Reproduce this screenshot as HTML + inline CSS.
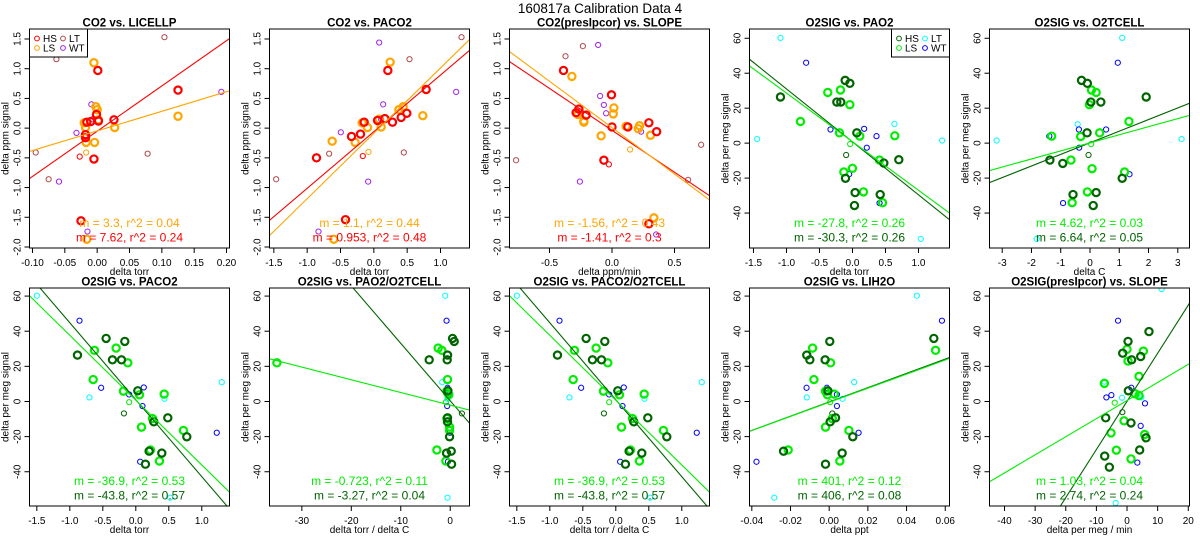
<!DOCTYPE html>
<html><head><meta charset="utf-8"><title>160817a Calibration Data 4</title>
<style>
html,body{margin:0;padding:0;background:#fff;width:1200px;height:550px;overflow:hidden;}
svg{display:block;font-family:"Liberation Sans",Arial,sans-serif;overflow:hidden;}
</style></head>
<body>
<svg id="chart" width="1200" height="550" viewBox="0 0 1200 550" xmlns="http://www.w3.org/2000/svg">
<text x="600" y="13" text-anchor="middle" font-size="13.5">160817a   Calibration Data 4</text>
</svg>
<script>
// ---- Panel 1: CO2 vs. LICELLP ----
const p1HsX=[0.001,0.125,0.026,-0.001,-0.010,0.002,-0.016,-0.018,-0.018,-0.005,-0.025];
const p1HsY=[0.97,0.64,0.14,0.23,0.11,0.12,0.10,-0.11,-0.16,-0.52,-1.56];
const p1LsX=[-0.005,-0.002,0.000,0.002,-0.020,-0.018,0.027,0.125,-0.017,-0.004,-0.016];
const p1LsY=[1.10,0.36,0.31,0.14,0.09,0.01,0.01,0.20,-0.24,-0.24,-1.87];
const p1HsOutX=[-0.027], p1HsOutY=[-0.48];
const p1LsOutX=[-0.017], p1LsOutY=[-0.41];
const p1LtX=[-0.063,0.104,-0.095,-0.075,0.078];
const p1LtY=[1.16,1.53,-0.41,-0.86,-0.43];
const p1WtX=[0.192,-0.009,-0.007,-0.032,-0.059,-0.015];
const p1WtY=[0.61,0.40,0.15,-0.08,-0.90,-1.74];
const p1Slopes=[7.62,3.3], p1Intercepts=[-0.052,-0.047];
const p1FitText=["m = 7.62, r^2 = 0.24","m = 3.3, r^2 = 0.04"];
const p1XTicks=["-0.10","-0.05","0.00","0.05","0.10","0.15","0.20"];
const p1YTicks=["-2.0","-1.5","-1.0","-0.5","0.0","0.5","1.0","1.5"];

// ---- Panel 2: CO2 vs. PACO2 ----
const p2HsX=[0.21,0.785,0.495,0.41,0.165,0.055,-0.145,0.28,-0.2,-0.335,-0.86,-0.425];
const p2HsY=[0.97,0.65,0.25,0.18,0.16,0.13,0.10,0.10,-0.10,-0.14,-0.50,-1.54];
const p2LsX=[0.245,0.44,0.375,0.08,-0.175,-0.095,0.11,0.735,-0.625,-0.28,-0.60];
const p2LsY=[1.11,0.36,0.31,0.15,0.09,0.01,0.02,0.21,-0.22,-0.24,-1.87];
const p2HsOutX=[-0.165], p2HsOutY=[-0.47];
const p2LsOutX=[-0.08], p2LsOutY=[-0.40];
const p2LtX=[0.535,1.315,-0.67,-1.465,0.45];
const p2LtY=[1.16,1.53,-0.43,-0.86,-0.41];
const p2WtX=[0.08,1.235,0.14,0.11,-0.495,-0.085,-0.83];
const p2WtY=[1.44,0.61,0.40,0.15,-0.07,-0.90,-1.74];
const p2Slopes=[0.953,1.1], p2Intercepts=[-0.06,-0.088];
const p2FitText=["m = 0.953, r^2 = 0.48","m = 1.1, r^2 = 0.44"];
const p2XTicks=["-1.5","-1.0","-0.5","0.0","0.5","1.0"];
const p2YTicks=["-2.0","-1.5","-1.0","-0.5","0.0","0.5","1.0","1.5"];

// ---- Panel 3: CO2(presIpcor) vs. SLOPE ----
const p3HsX=[-0.388,-0.004,-0.265,-0.287,-0.207,0,0.127,0.295,0.357,-0.065,0.295];
const p3HsY=[0.97,0.56,0.32,0.26,0.22,0.02,0.02,0.09,-0.06,-0.54,-1.61];
const p3LsX=[-0.321,0.015,0.01,-0.273,-0.225,-0.225,0.113,0.22,0.21,-0.087,0.308,0.335];
const p3LsY=[0.87,0.34,0.24,0.23,0.12,0.10,0.03,0.04,-0.01,-0.13,-0.12,-1.51];
const p3HsOutX=[-0.025], p3HsOutY=[-0.61];
const p3LsOutX=[0.145], p3LsOutY=[-0.36];
const p3LtX=[-0.372,-0.233,-0.767,0.609,0.713];
const p3LtY=[1.21,1.38,-0.54,-0.87,-0.28];
const p3WtX=[-0.111,-0.095,-0.065,-0.047,0.233,-0.257,0.353];
const p3WtY=[1.40,0.54,0.39,0.25,-0.06,-0.90,-1.79];
const p3Slopes=[-1.41,-1.56], p3Intercepts=[-0.037,0.009];
const p3FitText=["m = -1.41, r^2 = 0.3","m = -1.56, r^2 = 0.43"];
const p3XTicks=["-0.5","0.0","0.5"];
const p3YTicks=["-2.0","-1.5","-1.0","-0.5","0.0","0.5","1.0","1.5"];

// ---- Panel 4: O2SIG vs. PAO2 ----
const p4HsX=[-1.091,-0.111,-0.04,-0.237,-0.177,0.066,0.475,0.702,-0.106,0.04,0.03,0.42];
const p4HsY=[26.4,35.9,34.2,23.5,23.5,5.9,-11.4,-9.5,-20.1,-28.3,-35.7,-29.4];
const p4LsX=[-0.374,-0.182,-0.04,-0.788,-0.197,0.111,0.641,0.409,0.0,-0.131,0.167,0.455];
const p4LsY=[29.0,30.4,22.0,12.4,5.9,4.0,4.2,-9.7,-14.4,-16.5,-27.9,-34.1];
const p4HsOutX=[-0.096], p4HsOutY=[-6.8];
const p4LsOutX=[-0.035], p4LsOutY=[-0.5];
const p4LtX=[-1.091,-1.444,0.636,1.358,1.035];
const p4LtY=[60.2,2.3,11.0,1.5,-54.8];
const p4WtX=[-0.702,-0.333,0.177,0.364,0.217,-0.05,0.41];
const p4WtY=[46.0,7.8,8.2,4.0,-2.6,-17.8,-34.3];
const p4Slopes=[-30.3,-27.8], p4Intercepts=[0.73,0.83];
const p4FitText=["m = -30.3, r^2 = 0.26","m = -27.8, r^2 = 0.26"];
const p4XTicks=["-1.5","-1.0","-0.5","0.0","0.5","1.0"];
const p4YTicks=["-40","-20","0","20","40","60"];

// ---- Panel 5: O2SIG vs. O2TCELL ----
const p5HsX=[-0.29,-0.09,0.03,0.37,1.92,-0.1,-1.37,-0.93,1.1,-0.58,0.21,0.11];
const p5HsY=[35.9,34.2,23.5,23.5,26.4,5.9,-9.7,-11.6,-20.1,-29.4,-28.3,-35.7];
const p5LsX=[0.05,0.21,-0.02,1.33,-1.31,-0.32,0.33,-0.65,0.07,1.18,-0.09,-0.61];
const p5LsY=[30.4,29.0,22.0,12.4,4.0,3.8,5.9,-9.7,-14.6,-16.5,-27.9,-34.1];
const p5HsOutX=[-0.05], p5HsOutY=[-6.8];
const p5LsOutX=[0.04], p5LsOutY=[-0.5];
const p5LtX=[1.1,-3.19,-0.42,3.13,-1.82];
const p5LtY=[60.2,1.5,10.8,2.3,-54.8];
const p5WtX=[0.95,-1.39,-0.38,0.55,-0.37,1.35,-0.92];
const p5WtY=[46.0,4.0,7.8,7.8,-2.6,-17.8,-34.3];
const p5Slopes=[6.64,4.62], p5Intercepts=[0.2,0.17];
const p5FitText=["m = 6.64, r^2 = 0.05","m = 4.62, r^2 = 0.03"];
const p5XTicks=["-3","-2","-1","0","1","2","3"];
const p5YTicks=["-40","-20","0","20","40","60"];

// ---- Panel 6: O2SIG vs. PACO2 ----
const p6HsX=[-0.884,-0.45,-0.167,-0.354,-0.217,0.03,0.273,0.485,0.773,0.202,0.146,0.394];
const p6HsY=[26.4,35.9,34.2,23.7,23.7,6.1,-11.6,-9.3,-20.1,-28.3,-35.7,-29.4];
const p6LsX=[-0.626,-0.298,-0.121,-0.646,-0.187,0.056,0.43,0.253,0.086,0.722,0.222,0.358];
const p6LsY=[29.1,30.4,22.0,12.5,5.9,3.8,4.2,-9.7,-14.6,-16.5,-27.6,-33.9];
const p6HsOutX=[-0.18], p6HsOutY=[-6.8];
const p6LsOutX=[-0.1], p6LsOutY=[-0.4];
const p6LtX=[-1.5,-0.702,1.303,0.434,0.52];
const p6LtY=[60.2,2.3,11.0,1.5,-54.8];
const p6WtX=[-0.853,-0.525,0.121,-0.101,0.101,1.227,0.066];
const p6WtY=[46.0,7.8,8.0,4.0,-2.6,-17.8,-34.3];
const p6Slopes=[-43.8,-36.9], p6Intercepts=[1.0,0.75];
const p6FitText=["m = -43.8, r^2 = 0.57","m = -36.9, r^2 = 0.53"];
const p6XTicks=["-1.5","-1.0","-0.5","0.0","0.5","1.0"];
const p6YTicks=["-40","-20","0","20","40","60"];

// ---- Panel 7: O2SIG vs. PAO2/O2TCELL ----
const p7HsX=[-4.25,0.47,0.81,-0.54,-0.61,-0.47,-0.54,-0.54,-0.13,0.2,-0.74,0.27];
const p7HsY=[23.7,35.9,34.2,26.4,23.7,6.1,-11.6,-9.3,-20.1,-28.3,-29.4,-35.7];
const p7LsX=[-35.05,-2.43,-1.69,-0.54,-0.67,-0.27,-0.67,-0.13,-0.13,-2.7,-0.88,-0.54];
const p7LsY=[22.0,30.4,29.1,12.5,5.9,3.8,-9.7,-14.6,-16.5,-27.6,-33.9,5.0];
const p7HsOutX=[2.36], p7HsOutY=[-6.8];
const p7LsOutX=[-0.88], p7LsOutY=[-0.4];
const p7LtX=[-1.01,-1.62,-0.54,-0.47,-0.54];
const p7LtY=[60.2,11.0,1.5,2.3,-54.8];
const p7WtX=[-0.74,-0.54,-0.47,-0.2,-0.61,-0.07,-0.47];
const p7WtY=[46.0,7.8,7.0,4.0,-2.6,-17.8,-34.3];
const p7Slopes=[-3.27,-0.723], p7Intercepts=[0.4,-2.1];
const p7FitText=["m = -3.27, r^2 = 0.04","m = -0.723, r^2 = 0.11"];
const p7XTicks=["-30","-20","-10","0"];
const p7YTicks=["-40","-20","0","20","40","60"];

// ---- Panel 8: O2SIG vs. PACO2/O2TCELL ----
const p8HsX=[-0.884,-0.45,-0.167,-0.354,-0.217,0.03,0.273,0.485,0.773,0.202,0.146,0.394];
const p8HsY=[26.4,35.9,34.2,23.7,23.7,6.1,-11.6,-9.3,-20.1,-28.3,-35.7,-29.4];
const p8LsX=[-0.626,-0.298,-0.121,-0.646,-0.187,0.056,0.43,0.253,0.086,0.722,0.222,0.358];
const p8LsY=[29.1,30.4,22.0,12.5,5.9,3.8,4.2,-9.7,-14.6,-16.5,-27.6,-33.9];
const p8HsOutX=[-0.18], p8HsOutY=[-6.8];
const p8LsOutX=[-0.1], p8LsOutY=[-0.4];
const p8LtX=[-1.5,-0.702,1.303,0.434,0.52];
const p8LtY=[60.2,2.3,11.0,1.5,-54.8];
const p8WtX=[-0.853,-0.525,0.121,-0.101,0.101,1.227,0.066];
const p8WtY=[46.0,7.8,8.0,4.0,-2.6,-17.8,-34.3];
const p8Slopes=[-43.8,-36.9], p8Intercepts=[1.0,0.75];
const p8FitText=["m = -43.8, r^2 = 0.57","m = -36.9, r^2 = 0.53"];
const p8XTicks=["-1.5","-1.0","-0.5","0.0","0.5","1.0"];
const p8YTicks=["-40","-20","0","20","40","60"];

// ---- Panel 9: O2SIG vs. LIH2O ----
const p9HsX=[-0.0116,-0.01,-0.0021,0.0003,0.0541,-0.0007,0.0005,0.0033,0.0122,-0.0236,0.0067,-0.0019];
const p9HsY=[26.4,23.7,23.7,34.2,35.9,6.1,-11.6,-9.3,-20.1,-28.3,-29.4,-35.7];
const p9LsX=[-0.0086,0.055,0.0007,-0.0079,-0.0019,-0.0009,0.0026,0.0016,-0.0019,0.0102,-0.0212,0.0055];
const p9LsY=[30.4,29.1,22.0,12.5,5.9,3.8,4.2,-9.7,-14.6,-16.5,-27.6,-33.9];
const p9HsOutX=[0.0016], p9HsOutY=[-6.8];
const p9LsOutX=[0.0005], p9LsOutY=[-0.4];
const p9LtX=[0.0453,-0.0116,0.0129,0.0069,-0.0284];
const p9LtY=[60.2,2.3,11.0,1.5,-54.8];
const p9WtX=[0.0583,-0.0117,-0.0012,0.004,0.004,0.0152,-0.0376];
const p9WtY=[46.0,7.8,7.8,4.0,-2.6,-17.8,-34.3];
const p9Slopes=[406,401], p9Intercepts=[-0.25,-0.45];
const p9FitText=["m = 406, r^2 = 0.08","m = 401, r^2 = 0.12"];
const p9XTicks=["-0.04","-0.02","0.00","0.02","0.04","0.06"];
const p9YTicks=["-40","-20","0","20","40","60"];

// ---- Panel 10: O2SIG(presIpcor) vs. SLOPE ----
const p10HsX=[7.17,0.33,-1.41,1.52,4.46,0.43,-6.96,1.3,6.2,4.13,-7.29,-5.76];
const p10HsY=[39.8,34.2,27.5,23.7,25.6,6.1,-9.3,-12.2,-20.7,-27.6,-31.1,-37.4];
const p10LsX=[0,5.33,0.33,3.91,-7.39,2.61,3.91,-0.98,-5.22,5.76,-3.48,1.3];
const p10LsY=[29.7,28.7,23.0,14.3,10.3,4.4,3.4,-11.0,-17.9,-18.8,-27.7,-32.7];
const p10HsOutX=[-1.52], p10HsOutY=[-6.1];
const p10LsOutX=[-4.02], p10LsOutY=[-0.7];
const p10LtX=[11.3,-7.39,-1.63,4.67,-3.7];
const p10LtY=[64.0,11.3,2.1,2.3,-57.8];
const p10WtX=[-2.93,-6.74,-5.11,1.41,5.87,4.46,3.37];
const p10WtY=[46.0,2.3,3.6,7.8,-1.1,-13.9,-34.8];
const p10Slopes=[2.74,1.03], p10Intercepts=[0.06,0.52];
const p10FitText=["m = 2.74, r^2 = 0.24","m = 1.03, r^2 = 0.04"];
const p10XTicks=["-40","-30","-20","-10","0","10","20"];
const p10YTicks=["-40","-20","0","20","40","60"];

const CO2C={hs:"#ff0000",ls:"#ffa500",lt:"#b24848",wt:"#a020f0"};
const O2C={hs:"#006400",ls:"#00ee00",lt:"#00ffff",wt:"#0000ff"};

const panels=[
 {id:1,col:0,row:0,title:"CO2 vs. LICELLP",xl:"delta torr",yl:"delta ppm signal",xd:[-0.1046,0.2046],yd:[-2.017,1.668],c:CO2C,legend:"left",
  hs:[p1HsX,p1HsY],ls:[p1LsX,p1LsY],hso:[p1HsOutX,p1HsOutY],lso:[p1LsOutX,p1LsOutY],lt:[p1LtX,p1LtY],wt:[p1WtX,p1WtY],sl:p1Slopes,ic:p1Intercepts,ft:p1FitText,xt:p1XTicks,yt:p1YTicks},
 {id:2,col:1,row:0,title:"CO2 vs. PACO2",xl:"delta torr",yl:"delta ppm signal",xd:[-1.565,1.435],yd:[-2.017,1.668],c:CO2C,
  hs:[p2HsX,p2HsY],ls:[p2LsX,p2LsY],hso:[p2HsOutX,p2HsOutY],lso:[p2LsOutX,p2LsOutY],lt:[p2LtX,p2LtY],wt:[p2WtX,p2WtY],sl:p2Slopes,ic:p2Intercepts,ft:p2FitText,xt:p2XTicks,yt:p2YTicks},
 {id:3,col:2,row:0,title:"CO2(presIpcor) vs. SLOPE",xl:"delta ppm/min",yl:"delta ppm signal",xd:[-0.82,0.78],yd:[-2.017,1.668],c:CO2C,
  hs:[p3HsX,p3HsY],ls:[p3LsX,p3LsY],hso:[p3HsOutX,p3HsOutY],lso:[p3LsOutX,p3LsOutY],lt:[p3LtX,p3LtY],wt:[p3WtX,p3WtY],sl:p3Slopes,ic:p3Intercepts,ft:p3FitText,xt:p3XTicks,yt:p3YTicks},
 {id:4,col:3,row:0,title:"O2SIG vs. PAO2",xl:"delta torr",yl:"delta per meg signal",xd:[-1.56,1.47],yd:[-60,65.3],c:O2C,legend:"right",
  hs:[p4HsX,p4HsY],ls:[p4LsX,p4LsY],hso:[p4HsOutX,p4HsOutY],lso:[p4LsOutX,p4LsOutY],lt:[p4LtX,p4LtY],wt:[p4WtX,p4WtY],sl:p4Slopes,ic:p4Intercepts,ft:p4FitText,xt:p4XTicks,yt:p4YTicks},
 {id:5,col:4,row:0,title:"O2SIG vs. O2TCELL",xl:"delta C",yl:"delta per meg signal",xd:[-3.434,3.40],yd:[-60,65.3],c:O2C,
  hs:[p5HsX,p5HsY],ls:[p5LsX,p5LsY],hso:[p5HsOutX,p5HsOutY],lso:[p5LsOutX,p5LsOutY],lt:[p5LtX,p5LtY],wt:[p5WtX,p5WtY],sl:p5Slopes,ic:p5Intercepts,ft:p5FitText,xt:p5XTicks,yt:p5YTicks},
 {id:6,col:0,row:1,title:"O2SIG vs. PACO2",xl:"delta torr",yl:"delta per meg signal",xd:[-1.611,1.42],yd:[-59.5,64.6],c:O2C,
  hs:[p6HsX,p6HsY],ls:[p6LsX,p6LsY],hso:[p6HsOutX,p6HsOutY],lso:[p6LsOutX,p6LsOutY],lt:[p6LtX,p6LtY],wt:[p6WtX,p6WtY],sl:p6Slopes,ic:p6Intercepts,ft:p6FitText,xt:p6XTicks,yt:p6YTicks},
 {id:7,col:1,row:1,title:"O2SIG vs. PAO2/O2TCELL",xl:"delta torr / delta C",yl:"delta per meg signal",xd:[-36.54,3.9],yd:[-59.5,64.6],c:O2C,
  hs:[p7HsX,p7HsY],ls:[p7LsX,p7LsY],hso:[p7HsOutX,p7HsOutY],lso:[p7LsOutX,p7LsOutY],lt:[p7LtX,p7LtY],wt:[p7WtX,p7WtY],sl:p7Slopes,ic:p7Intercepts,ft:p7FitText,xt:p7XTicks,yt:p7YTicks},
 {id:8,col:2,row:1,title:"O2SIG vs. PACO2/O2TCELL",xl:"delta torr / delta C",yl:"delta per meg signal",xd:[-1.611,1.42],yd:[-59.5,64.6],c:O2C,
  hs:[p8HsX,p8HsY],ls:[p8LsX,p8LsY],hso:[p8HsOutX,p8HsOutY],lso:[p8LsOutX,p8LsOutY],lt:[p8LtX,p8LtY],wt:[p8WtX,p8WtY],sl:p8Slopes,ic:p8Intercepts,ft:p8FitText,xt:p8XTicks,yt:p8YTicks},
 {id:9,col:3,row:1,title:"O2SIG vs. LIH2O",xl:"delta ppt",yl:"delta per meg signal",xd:[-0.0412,0.0622],yd:[-59.5,64.6],c:O2C,
  hs:[p9HsX,p9HsY],ls:[p9LsX,p9LsY],hso:[p9HsOutX,p9HsOutY],lso:[p9LsOutX,p9LsOutY],lt:[p9LtX,p9LtY],wt:[p9WtX,p9WtY],sl:p9Slopes,ic:p9Intercepts,ft:p9FitText,xt:p9XTicks,yt:p9YTicks},
 {id:10,col:4,row:1,title:"O2SIG(presIpcor) vs. SLOPE",xl:"delta per meg / min",yl:"delta per meg signal",xd:[-44.9,20.4],yd:[-59.5,64.6],c:O2C,
  hs:[p10HsX,p10HsY],ls:[p10LsX,p10LsY],hso:[p10HsOutX,p10HsOutY],lso:[p10LsOutX,p10LsOutY],lt:[p10LtX,p10LtY],wt:[p10WtX,p10WtY],sl:p10Slopes,ic:p10Intercepts,ft:p10FitText,xt:p10XTicks,yt:p10YTicks}
];

const NS="http://www.w3.org/2000/svg";
const svg=document.getElementById("chart");
function mk(tag,attrs,parent){const e=document.createElementNS(NS,tag);for(const k in attrs)e.setAttribute(k,attrs[k]);parent.appendChild(e);return e;}

panels.forEach(p=>{
  const L=29.5+240*p.col, W=200;
  const T=p.row===0?29:288, B=p.row===0?248:506, H=B-T;
  const sx=v=>L+(v-p.xd[0])/(p.xd[1]-p.xd[0])*W;
  const sy=v=>T+(p.yd[1]-v)/(p.yd[1]-p.yd[0])*H;
  const g=mk("g",{},svg);
  
  
  const cp=mk("clipPath",{id:"clip"+p.id},g);
  mk("rect",{x:L,y:T,width:W,height:H},cp);
  const tt=mk("text",{x:L+W/2,y:T-2.5,"text-anchor":"middle","font-size":"11.5","font-weight":"bold"},g);
  tt.textContent=p.title;
  
  
  p.xt.forEach(t=>{
    const v=parseFloat(t), x=sx(v);
    const ln=mk("line",{x1:x,x2:x,y1:B,y2:B+5,stroke:"#000","stroke-width":"1"},g);
    
    
    const tx=mk("text",{x:x,y:B+18,"text-anchor":"middle","font-size":"10"},g);
    tx.textContent=t;
    
    
  });
  p.yt.forEach(t=>{
    const v=parseFloat(t), y=sy(v);
    const ln=mk("line",{x1:L-5,x2:L,y1:y,y2:y,stroke:"#000","stroke-width":"1"},g);
    
    
    const tx=mk("text",{x:L-9,y:y,"text-anchor":"middle","font-size":"10",transform:"rotate(-90 "+(L-9)+" "+y+")"},g);
    tx.textContent=t;
    
    
  });
  const xl=mk("text",{x:L+W/2,y:B+27,"text-anchor":"middle","font-size":"10"},g);
  xl.textContent=p.xl;
  
  
  const yx=L-21, yy=T+H/2;
  const yl=mk("text",{x:yx,y:yy,"text-anchor":"middle","font-size":"10",transform:"rotate(-90 "+yx+" "+yy+")"},g);
  yl.textContent=p.yl;
  
  
  const pg=mk("g",{"clip-path":"url(#clip"+p.id+")"},g);
  function pts(arr,color,r,sw,name){
    arr[0].forEach((xv,i)=>{
      const c=mk("circle",{cx:sx(xv),cy:sy(arr[1][i]),r:r,fill:"none",stroke:color,"stroke-width":sw},pg);
      
      
    });
  }
  pts(p.lt,p.c.lt,2.6,1,"point-lt");
  pts(p.wt,p.c.wt,2.6,1,"point-wt");
  pts(p.hso,p.c.hs,2.6,1,"point-hs-excluded");
  pts(p.lso,p.c.ls,2.6,1,"point-ls-excluded");
  pts(p.ls,p.c.ls,3.6,2.2,"point-ls");
  pts(p.hs,p.c.hs,3.6,2.2,"point-hs");
  [["hs",0],["ls",1]].forEach(([k,i])=>{
    const x0=p.xd[0], x1=p.xd[1];
    const ln=mk("line",{x1:sx(x0),y1:sy(p.ic[i]+p.sl[i]*x0),x2:sx(x1),y2:sy(p.ic[i]+p.sl[i]*x1),stroke:p.c[k],"stroke-width":"1.1"},pg);
    
    
  });
  const f1=mk("text",{x:L+W/2,y:B-21,"text-anchor":"middle","font-size":"12",fill:p.c.ls},g);
  f1.textContent=p.ft[1];
  
  
  const f2=mk("text",{x:L+W/2,y:B-6.5,"text-anchor":"middle","font-size":"12",fill:p.c.hs},g);
  f2.textContent=p.ft[0];
  
  
  const box=mk("rect",{x:L,y:T,width:W,height:H,fill:"none",stroke:"#000","stroke-width":"1"},g);
  
  
  if(p.legend){
    const lx=p.legend==="left"?L:L+W-58, ly=T;
    const lg=mk("g",{},g);
    
    
    mk("rect",{x:lx,y:ly,width:58,height:28,fill:"#fff",stroke:"#000","stroke-width":"1"},lg);
    const ents=[["HS","hs",0,0],["LT","lt",1,0],["LS","ls",0,1],["WT","wt",1,1]];
    ents.forEach(([lab,k,cx,cy])=>{
      const ex=lx+7.5+cx*26, ey=ly+9.5+cy*9.5;
      const e=mk("g",{},lg);
      
      
      mk("circle",{cx:ex,cy:ey,r:2.4,fill:"none",stroke:p.c[k],"stroke-width":"1"},e);
      const t=mk("text",{x:ex+6,y:ey+3.6,"font-size":"10"},e);
      t.textContent=lab;
    });
  }
});
</script>
</body></html>
